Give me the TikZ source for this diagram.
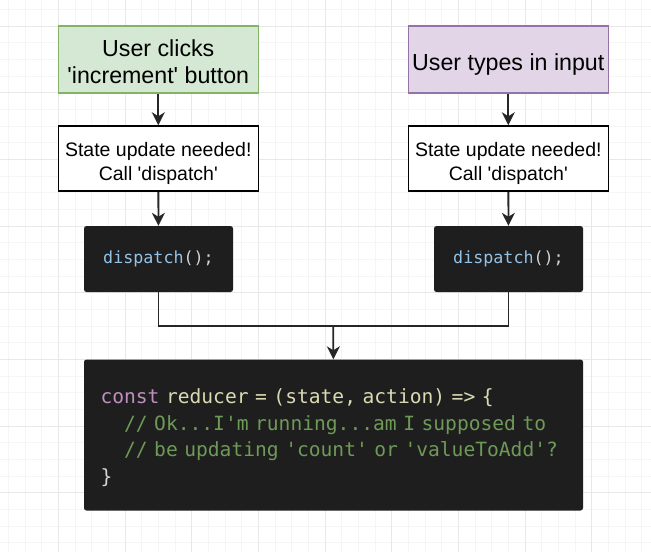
\documentclass[tikz,border=0pt]{standalone}
\usepackage{fontspec}
\setmainfont{Liberation Sans}
\setmonofont{DejaVu Sans Mono}
\usetikzlibrary{arrows.meta}
\definecolor{clickfill}{HTML}{D5E8D4}
\definecolor{clickline}{HTML}{82B366}
\definecolor{typefill}{HTML}{E1D5E7}
\definecolor{typeline}{HTML}{9673A6}
\definecolor{codebg}{HTML}{1E1E1E}
\definecolor{fnblue}{HTML}{94C3E8}
\definecolor{kwpink}{HTML}{C08EC0}
\definecolor{idbeige}{HTML}{DADAB2}
\definecolor{cmtgreen}{HTML}{6E9A58}
\definecolor{punct}{HTML}{D4D4D4}
\tikzstyle{minorgrid}=[draw=black!4,line width=0.8pt]
\tikzstyle{majorgrid}=[draw=black!9,line width=0.8pt]
\tikzstyle{event} = [rectangle, minimum width=200pt, minimum height=67pt, align=center, text depth=0pt, line width=1.2pt, font=\fontsize{23.2}{26.7}\selectfont]
\tikzstyle{note} = [rectangle, minimum width=200pt, minimum height=65pt, align=center, text height=43pt, text depth=0pt, draw=black, fill=white, line width=1.5pt, font=\fontsize{19.5}{23.3}\selectfont]
\tikzstyle{code} = [rectangle, rounded corners=2.5pt, fill=codebg, text=punct, font=\ttfamily]
\tikzstyle{arrow} = [line width=1.8pt, draw=black!85, -{Stealth[length=13pt,width=13pt,inset=4pt]}]
\tikzstyle{line} = [line width=1.8pt, draw=black!85]

\begin{document}
\begin{tikzpicture}[x=1pt,y=-1pt]
\useasboundingbox[fill=white] (0,0) rectangle (651,552);
\foreach \i in {0,...,38} \draw[minorgrid] ({8.33+\i*16.667},0) -- ++(0,552);
\foreach \i in {0,...,32} \draw[minorgrid] (0,{9.33+\i*16.667}) -- ++(651,0);
\foreach \i in {0,...,8} \draw[majorgrid] ({58.33+\i*66.667},0) -- ++(0,552);
\foreach \i in {0,...,7} \draw[majorgrid] (0,{26+\i*66.667}) -- ++(651,0);

\node[event, text height=47.6pt, draw=clickline, fill=clickfill] (click) at (158.3,59.5) {User clicks\\\textquotesingle increment\textquotesingle{} button};
\node[event, text height=21pt, draw=typeline, fill=typefill] (types) at (508.3,59.5) {User types in input};
\node[note] (needL) at (158.3,158.5) {State update needed!\\Call \textquotesingle dispatch\textquotesingle};
\node[note] (needR) at (508.3,158.5) {State update needed!\\Call \textquotesingle dispatch\textquotesingle};
\node[code, minimum width=149pt, minimum height=66pt, font=\ttfamily\fontsize{16.7}{20}\selectfont] (dispL) at (158.5,259) {\textcolor{fnblue}{dispatch}();};
\node[code, minimum width=149pt, minimum height=66pt, font=\ttfamily\fontsize{16.7}{20}\selectfont] (dispR) at (508.5,259) {\textcolor{fnblue}{dispatch}();};
\node[code, minimum width=499pt, minimum height=151pt, text width=466pt, inner xsep=16.5pt, align=left, text height=14pt, text depth=77pt, font=\ttfamily\fontsize{19.6}{26.6}\selectfont] (reducer) at (333.5,435) {%
\textcolor{kwpink}{const} \textcolor{idbeige}{reducer = (state, action) => \{}\\
\phantom{xx}\textcolor{cmtgreen}{// Ok...I'm running...am I supposed to}\\
\phantom{xx}\textcolor{cmtgreen}{// be updating 'count' or 'valueToAdd'?}\\
\}};
\coordinate (join) at (333.3,325.7);

\draw[arrow] (click) -- (needL);
\draw[arrow] (needL) -- (dispL);
\draw[arrow] (types) -- (needR);
\draw[arrow] (needR) -- (dispR);
\draw[line] (dispL) |- (join) -| (dispR);
\draw[arrow] (join) -- (reducer);
\end{tikzpicture}
\end{document}
